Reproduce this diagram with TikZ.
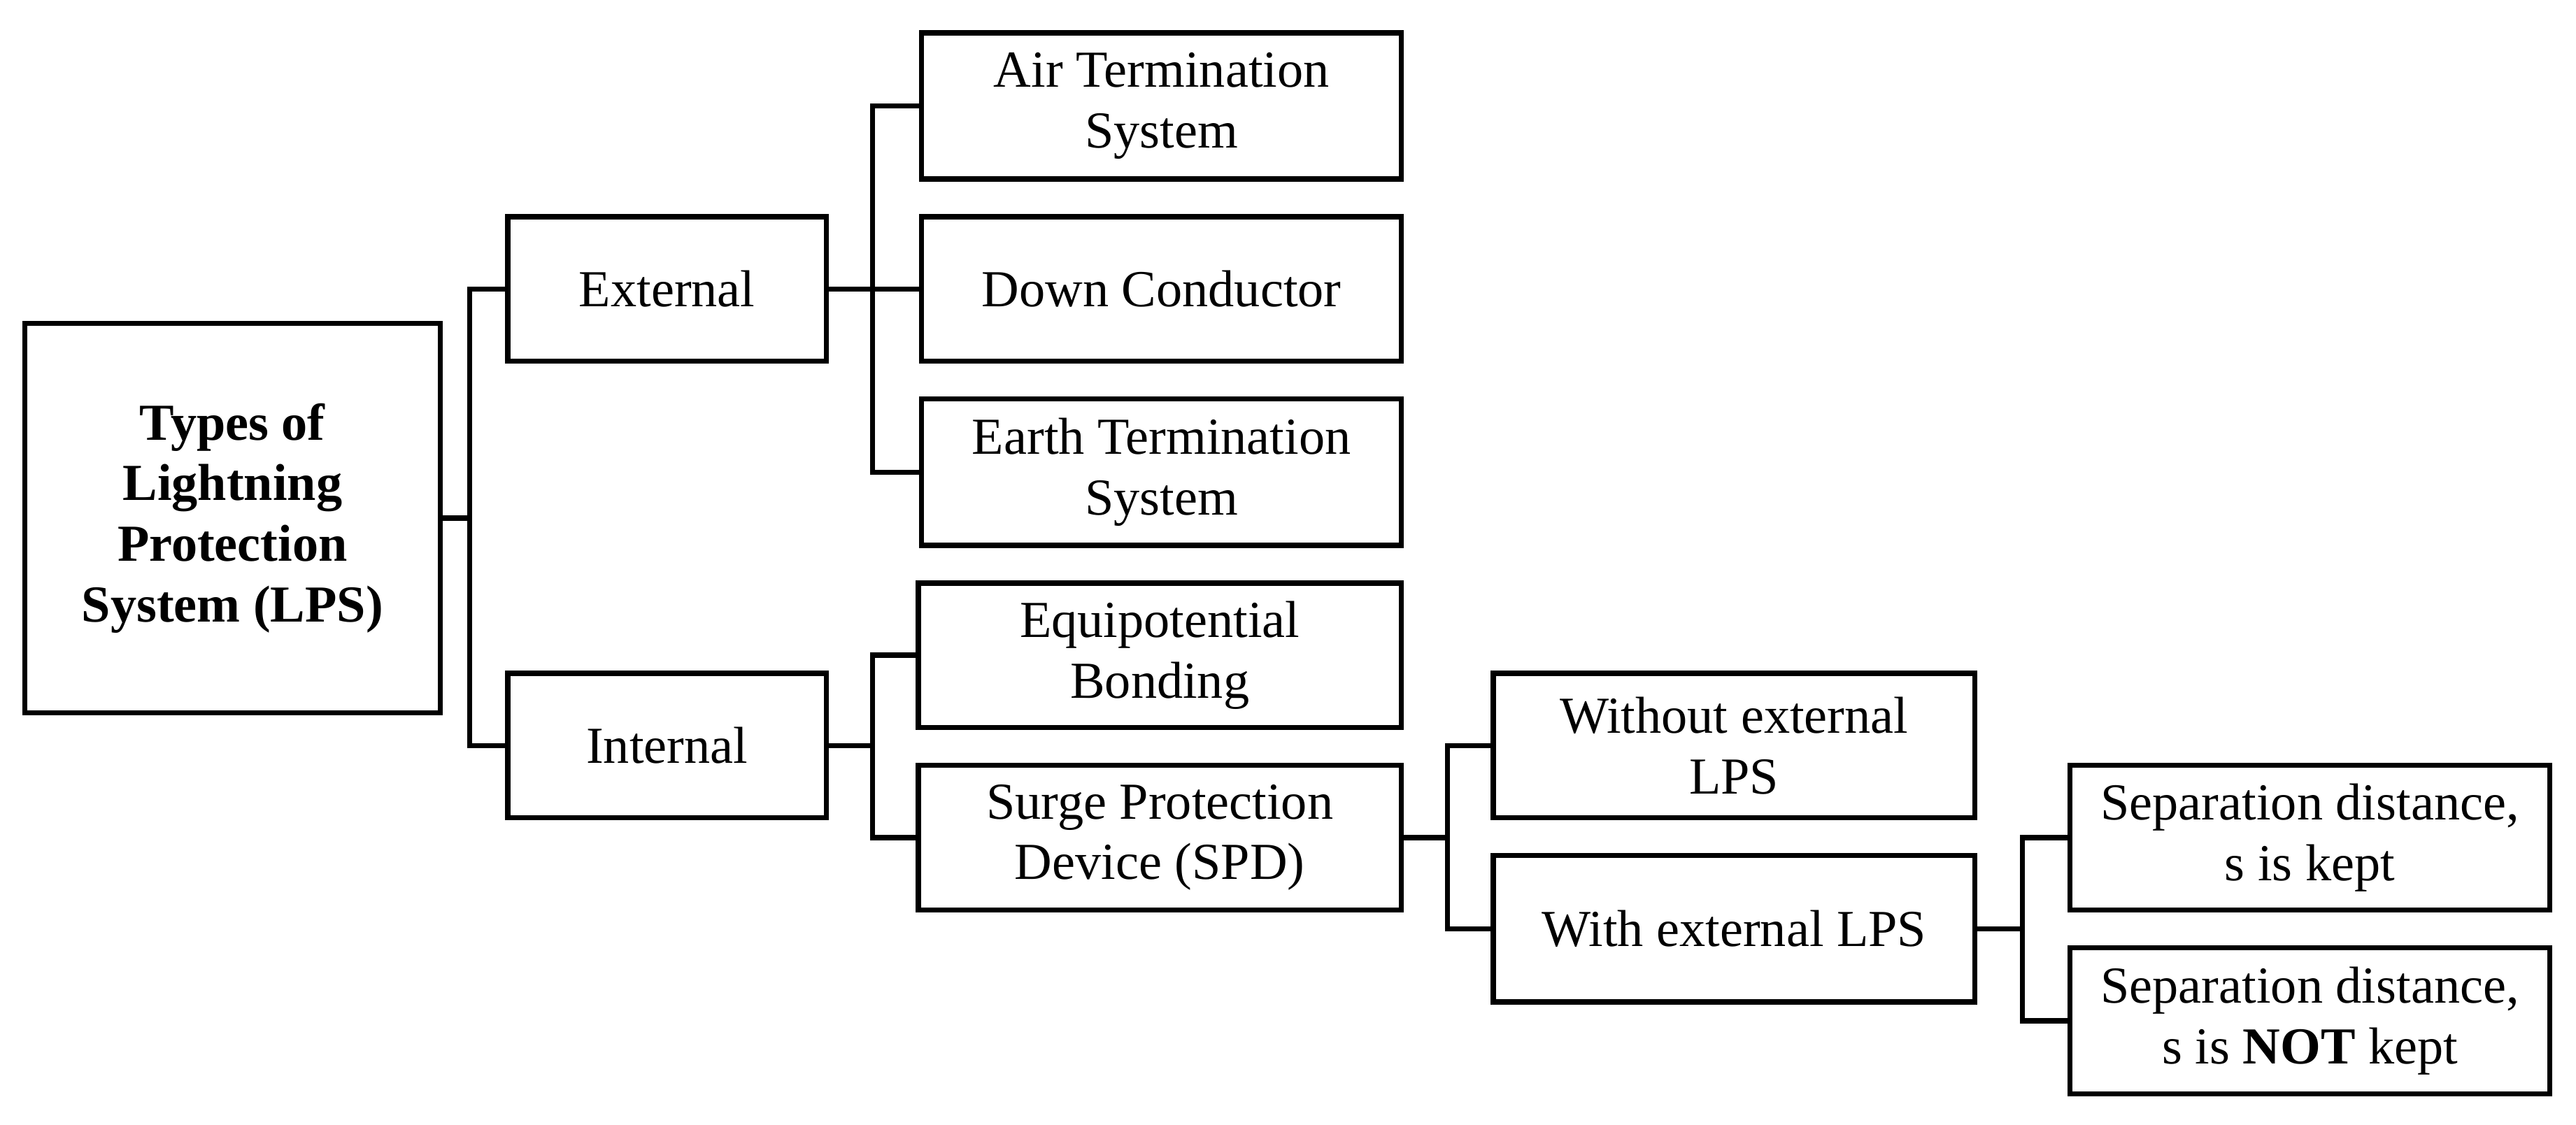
\documentclass[tikz,border=0pt]{standalone}
\usepackage{fontspec}
\setmainfont{Liberation Serif}
\begin{document}
\begin{tikzpicture}[x=0.02cm,y=-0.02cm,
  box/.style={draw,line width=1.8pt,align=center,inner sep=0pt,font=\fontsize{18}{21}\selectfont},
  ln/.style={line width=1.8pt}]
\useasboundingbox (0,0) rectangle (1568,685);
\newcommand\bx[6]{\node[box,minimum width={(#4-#2)*0.02cm},minimum height={(#5-#3)*0.02cm}] (#1) at ({(#2+#4)/2},{(#3+#5)/2}) {#6};}
\bx{root}{15}{197}{268}{434}{\bfseries Types of\\\bfseries Lightning\\\bfseries Protection\\\bfseries System (LPS)}
\bx{ext}{309}{132}{503}{220}{External}
\bx{int}{309}{410}{503}{498}{Internal}
\bx{air}{561}{20}{853}{109}{Air Termination\\System}
\bx{down}{561}{132}{853}{220}{Down Conductor}
\bx{earth}{561}{243}{853}{332}{Earth Termination\\System}
\bx{equi}{559}{355}{853}{443}{Equipotential\\Bonding}
\bx{spd}{559}{466}{853}{554}{Surge Protection\\Device (SPD)}
\bx{wo}{909}{410}{1202}{498}{Without external\\LPS}
\bx{w}{909}{521}{1202}{610}{With external LPS}
\bx{sk}{1260}{466}{1552}{554}{Separation distance,\\s is kept}
\bx{snk}{1260}{577}{1552}{666}{Separation distance,\\s is \textbf{NOT} kept}
\coordinate (j1) at (286,0); \coordinate (j2) at (531,0);
\coordinate (j3) at (881,0); \coordinate (j4) at (1231,0);
\draw[ln] (root.east) -- (root.east -| j1);
\draw[ln] (ext.west) -| (j1 |- int.west) -- (int.west);
\draw[ln] (ext.east) -- (ext.east -| j2);
\draw[ln] (air.west) -| (j2 |- earth.west) -- (earth.west);
\draw[ln] (down.west) -- (down.west -| j2);
\draw[ln] (int.east) -- (int.east -| j2);
\draw[ln] (equi.west) -| (j2 |- spd.west) -- (spd.west);
\draw[ln] (spd.east) -- (spd.east -| j3);
\draw[ln] (wo.west) -| (j3 |- w.west) -- (w.west);
\draw[ln] (w.east) -- (w.east -| j4);
\draw[ln] (sk.west) -| (j4 |- snk.west) -- (snk.west);
\end{tikzpicture}
\end{document}
